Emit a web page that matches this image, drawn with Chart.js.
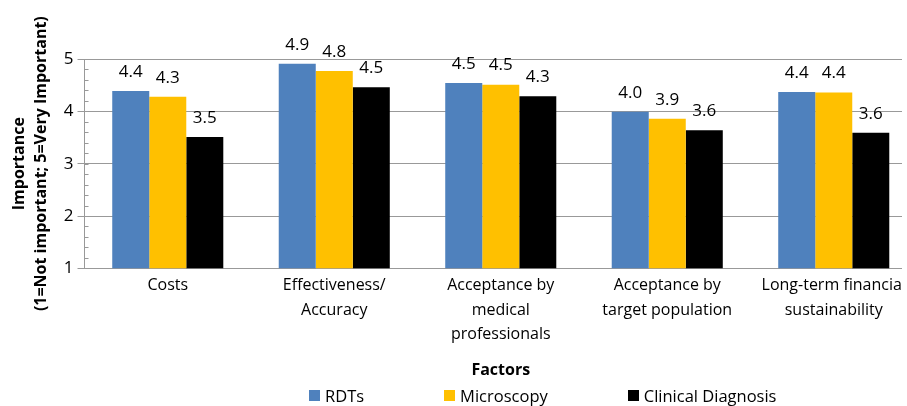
<!DOCTYPE html>
<html>
<head>
<meta charset="utf-8">
<script src="https://cdn.jsdelivr.net/npm/chart.js@4/dist/chart.umd.min.js"></script>
<style>
    body { margin: 0; background: #fff; font-family: 'Open Sans', sans-serif; }
    .frame { position: relative; width: 902px; height: 406px; overflow: hidden; }
    .box { position: absolute; left: 0; top: 0; width: 920px; height: 406px; }
    .legend { position: absolute; left: 309px; top: 384px; display: flex; gap: 80px; font-size: 16.5px; color: #000; }
    .legend span { display: inline-flex; align-items: center; }
    .legend i { display: inline-block; width: 11px; height: 11px; margin-right: 5px; }
</style>
</head>
<body>
<div class="frame">
    <div class="box"><canvas id="chart"></canvas></div>
    <div class="legend" id="legend"></div>
</div>
<script>
// Data
const categories = [
    ['Costs'],
    ['Effectiveness/', 'Accuracy'],
    ['Acceptance by', 'medical', 'professionals'],
    ['Acceptance by', 'target population'],
    ['Long-term financial', 'sustainability']
];
const seriesNames = ['RDTs', 'Microscopy', 'Clinical Diagnosis'];
const seriesColors = ['#4F81BD', '#FFC000', '#000000'];
const rdts = [4.39, 4.91, 4.54, 3.99, 4.37];
const microscopy = [4.28, 4.77, 4.51, 3.86, 4.36];
const clinical = [3.51, 4.46, 4.29, 3.64, 3.59];
const yMin = 1;
const yMax = 5;

const FONT = "'Open Sans', sans-serif";

// Value labels above bars
const valueLabels = {
    id: 'valueLabels',
    afterDatasetsDraw(chart) {
        const ctx = chart.ctx;
        ctx.save();
        ctx.font = '17px ' + FONT;
        ctx.fillStyle = '#000';
        ctx.textAlign = 'center';
        ctx.textBaseline = 'middle';
        chart.data.datasets.forEach((ds, i) => {
            chart.getDatasetMeta(i).data.forEach((bar, j) => {
                ctx.fillText(ds.data[j].toFixed(1), bar.x, bar.y - 19);
            });
        });
        ctx.restore();
    }
};

// Small inside minor ticks on the y axis
const minorTicks = {
    id: 'minorTicks',
    afterDraw(chart) {
        const y = chart.scales.y;
        const ctx = chart.ctx;
        ctx.save();
        ctx.strokeStyle = '#999';
        ctx.lineWidth = 1;
        for (let v = yMin; v < yMax; v += 0.2) {
            const py = Math.round(y.getPixelForValue(v)) + 0.5;
            ctx.beginPath();
            ctx.moveTo(y.right, py);
            ctx.lineTo(y.right + 4, py);
            ctx.stroke();
        }
        ctx.restore();
    }
};

const datasets = [rdts, microscopy, clinical].map((d, i) => ({
    label: seriesNames[i],
    data: d,
    backgroundColor: seriesColors[i],
    barPercentage: 1,
    categoryPercentage: 0.667
}));

new Chart(document.getElementById('chart'), {
    type: 'bar',
    data: { labels: categories, datasets: datasets },
    options: {
        responsive: true,
        maintainAspectRatio: false,
        animation: false,
        layout: { padding: { top: 59, right: 3, bottom: 26, left: 8 } },
        plugins: {
            legend: { display: false },
            tooltip: { enabled: false }
        },
        scales: {
            x: {
                grid: { display: false },
                border: { color: '#999' },
                ticks: {
                    color: '#000',
                    maxRotation: 0,
                    autoSkip: false,
                    padding: -3,
                    font: { family: FONT, size: 16, lineHeight: 1.53 }
                },
                title: {
                    display: true,
                    text: 'Factors',
                    color: '#000',
                    padding: { top: 17, bottom: 0 },
                    font: { family: FONT, size: 16, weight: 'bold' }
                }
            },
            y: {
                min: yMin,
                max: yMax,
                border: { color: '#999' },
                grid: { color: '#999', tickLength: 7 },
                ticks: {
                    stepSize: 1,
                    color: '#000',
                    padding: 4,
                    font: { family: FONT, size: 17 }
                },
                title: {
                    display: true,
                    text: ['Importance', '(1=Not important; 5=Very Important)'],
                    color: '#000',
                    padding: { top: 0, bottom: 7 },
                    font: { family: FONT, size: 16, weight: 'bold', lineHeight: 1.4 }
                }
            }
        }
    },
    plugins: [valueLabels, minorTicks]
});

// Legend
const legend = document.getElementById('legend');
seriesNames.forEach((name, i) => {
    const item = document.createElement('span');
    const sw = document.createElement('i');
    sw.style.background = seriesColors[i];
    item.appendChild(sw);
    item.appendChild(document.createTextNode(name));
    legend.appendChild(item);
});
</script>
</body>
</html>
